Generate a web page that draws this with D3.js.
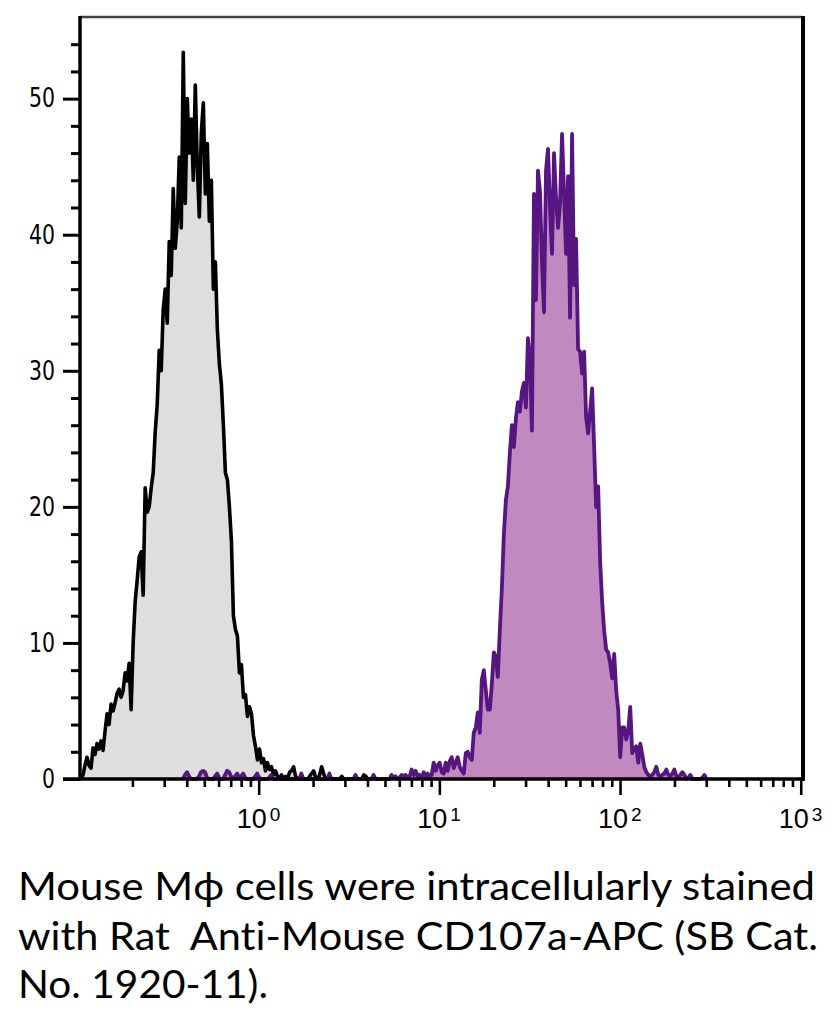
<!DOCTYPE html>
<html><head><meta charset="utf-8">
<script src="https://cdn.jsdelivr.net/npm/d3@7"></script>
<style>body{margin:0;background:#fff} text{font-variant-ligatures:none;font-feature-settings:"liga" 0,"clig" 0,"dlig" 0}</style>
</head><body>
<svg id="c" width="832" height="1017"></svg>
<script>
// ---- data ----
const binWidth = 0.0111;          // histogram bin width in decades
const grayStart = -0.9835;        // log10 of first gray bin
const grayCounts = [
  0,0.3,1.0,1.6,1.0,0.8,2.3,1.8,2.6,2.2,2.8,2.1,3.5,4.8,4.0,5.5,5.0,5.6,6.3,6.6,
  6.0,6.5,7.8,7.2,8.5,5.1,10.0,13.0,14.6,16.3,16.7,13.5,21.4,19.6,20.0,21.4,22.5,25.5,27.5,31.5,
  30.0,34.5,36.0,33.5,39.5,37.0,43.4,39.0,41.0,45.7,40.5,53.4,42.3,50.0,46.0,48.5,44.0,51.0,45.0,41.3,
  47.5,49.7,43.0,46.7,41.0,44.0,36.0,38.0,33.0,30.5,29.0,26.0,22.5,22.0,20.0,17.5,12.0,11.0,10.5,7.8,
  8.4,6.0,6.2,4.6,5.3,4.8,3.2,2.4,1.4,2.2,1.2,1.5,0.6,1.2,0.7,0.9,0.3,0.6,0.2,0,
  0.3,0,0.2,0,0.5,0.6,0.9,0.2,0,0,0,0,0,0,0.2,0.4,0.6,0.1,0,0.3,
  0.9,0.4,0,0,0,0,0,0,0,0,0.2,0,0,0,0,0,0,0,0,0,
  0,0.3,0.2,0,0
];
const purpleStart = -0.419;       // log10 of first purple bin
const purpleCounts = [
  0,0.3,0.5,0.2,0,0,0,0,0.2,0.5,0.6,0.5,0.1,0,0,0,0.2,0.4,0.1,0,0,0.3,0.6,0.5,
  0.2,0,0.2,0.4,0.1,0.2,0.4,0.1,0,0,0,0,0.2,0.4,0.1,0,0,0,0,0.1,0.3,0,
  0,0,0,0,0,0,0,0,0,0,0,0,0,0.4,0,
  0,0,0,0,0,0,0,0,0,0,0,0,0.4,0,
  0,0,0,0,0,0,0,0,0,0,0,0.3,0,
  0,0,0,0,0,0,0,0.3,0,
  0,0,0,0,0,0,0,
  0.3,0.1,0.2,0,0.1,0.3,0.2,0.3,0.1,0.2,0.7,0.3,0.6,0.2,0.3,0.1,0.5,0.2,0.4,0.2,
  0.3,1.2,0.6,1.0,1.2,0.5,0.4,1.2,0.6,1.3,1.6,0.8,1.2,1.6,0.9,0.6,0.4,1.9,2.0,1.6,
  1.4,3.4,3.8,4.9,3.4,7.3,8.0,6.5,5.1,5.1,7.0,9.3,9.0,7.5,11.0,14.0,18.0,20.5,21.5,24.0,
  26.0,24.4,26.5,27.7,27.0,28.5,29.1,27.3,32.4,30.8,25.6,43.0,35.2,44.7,43.2,38.0,34.3,44.7,46.3,42.0,
  38.6,46.0,42.7,40.5,42.3,47.4,43.0,38.6,44.3,33.9,47.4,36.3,39.7,31.6,31.4,29.8,31.4,26.6,25.4,27.0,
  28.7,24.4,20.0,21.5,16.0,13.0,10.9,9.5,9.3,8.5,7.4,9.2,6.5,5.1,1.6,3.8,3.8,2.9,3.5,5.3,
  1.9,2.2,2.4,1.2,2.6,1.8,0.9,0.5,0.3,0.2,0.3,0.5,0.9,0.3,0.2,0.3,0.4,0.7,0.3,0.2,
  0.4,0.7,0.2,0.1,0.3,0.5,0.3,0,0.1,0.3,0,0,0,0,0,0.1,0.3,0
];
const yMajorTicks = [0,10,20,30,40,50];
const yMinorTicks = [2,4,6,8,12,14,16,18,22,24,26,28,32,34,36,38,42,44,46,48,52,54];
const xMajorTicks = [1,10,100,1000];
const xMajorExponents = ["0","1","2","3"];
const xMinorTicks = [0.2,0.3,0.4,0.5,0.6,0.7,0.8,0.9,2,3,4,5,6,7,8,9,20,30,40,50,60,70,80,90,200,300,400,500,600,700,800,900];
const captionLines = [
  "Mouse M\u03D5 cells were intracellularly stained",
  "with Rat  Anti-Mouse CD107a-APC (SB Cat.",
  "No. 1920-11)."
];

// ---- layout ----
const L = 80, R = 802, T = 17, B = 779;
const svg = d3.select("#c");
const x = d3.scaleLog().domain([Math.pow(10,-0.989), Math.pow(10,3.007)]).range([L, R]);
const y = d3.scaleLinear().domain([0, 56]).range([B, T]);

const toPts = (start, arr) => arr.map((c, i) => ({v: Math.pow(10, start + i*binWidth), c}));
const grayPts = toPts(grayStart, grayCounts);
const purplePts = toPts(purpleStart, purpleCounts);

const area = d3.area().x(d => x(d.v)).y0(y(0)).y1(d => y(d.c));
const line = d3.line().x(d => x(d.v)).y(d => y(d.c));

svg.append("path").attr("d", area(grayPts)).attr("fill", "#dedede");
svg.append("path").attr("d", line(grayPts)).attr("fill", "none").attr("stroke", "#000")
  .attr("stroke-width", 3.6).attr("stroke-linejoin", "round");
svg.append("path").attr("d", area(purplePts)).attr("fill", "#c08ac0");
svg.append("path").attr("d", line(purplePts)).attr("fill", "none").attr("stroke", "#561580")
  .attr("stroke-width", 3.8).attr("stroke-linejoin", "round");

// frame
svg.append("line").attr("x1", L).attr("x2", R).attr("y1", T).attr("y2", T)
  .attr("stroke", "#444").attr("stroke-width", 2.5);
svg.append("line").attr("x1", R + 1).attr("x2", R + 1).attr("y1", T - 1).attr("y2", B + 1.5)
  .attr("stroke", "#000").attr("stroke-width", 4);

// y axis
const tickFont = "'DejaVu Sans', Verdana, sans-serif";
const yMaj = svg.append("g").attr("transform", `translate(${L},0)`)
  .call(d3.axisLeft(y).tickValues(yMajorTicks).tickSize(17).tickPadding(8).tickFormat(d3.format("d")));
const yMin = svg.append("g").attr("transform", `translate(${L},0)`)
  .call(d3.axisLeft(y).tickValues(yMinorTicks).tickSize(9).tickFormat(""));
[yMaj, yMin].forEach(g => {
  g.select(".domain").remove();
  g.selectAll(".tick line").attr("stroke", "#000").attr("stroke-width", 3);
});
yMaj.selectAll(".tick text").attr("font-family", tickFont).attr("font-size", 26)
  .attr("fill", "#000").attr("textLength", function(d){ return String(d).length * 13; })
  .attr("lengthAdjust", "spacingAndGlyphs");

// x axis
const xMaj = svg.append("g").attr("transform", `translate(0,${B})`)
  .call(d3.axisBottom(x).tickValues(xMajorTicks).tickSize(16).tickFormat(""));
const xMin = svg.append("g").attr("transform", `translate(0,${B})`)
  .call(d3.axisBottom(x).tickValues(xMinorTicks).tickSize(8).tickFormat(""));
[xMaj, xMin].forEach(g => {
  g.select(".domain").remove();
  g.selectAll(".tick line").attr("stroke", "#000").attr("stroke-width", 2.6);
});
const xFont = "'Liberation Sans', Arial, sans-serif";
const xl = svg.append("g");
xMajorTicks.forEach((v, i) => {
  const cx = x(v);
  xl.append("text").attr("x", cx + 8).attr("y", 828).attr("text-anchor", "end")
    .attr("font-family", xFont).attr("font-size", 27).attr("fill", "#000").text("10");
  xl.append("text").attr("x", cx + 11).attr("y", 821).attr("text-anchor", "start")
    .attr("font-family", xFont).attr("font-size", 19).attr("fill", "#000")
    .text(xMajorExponents[i]);
});

// axis lines
svg.append("line").attr("x1", L).attr("x2", L).attr("y1", T - 1).attr("y2", B + 1.5)
  .attr("stroke", "#000").attr("stroke-width", 3.5);
svg.append("line").attr("x1", L - 17).attr("x2", R + 3).attr("y1", B).attr("y2", B)
  .attr("stroke", "#000").attr("stroke-width", 3.5);

// caption
const capLens = [797, 800, 250];
const capY = [900, 950, 998];
captionLines.forEach((s, i) => {
  svg.append("text").attr("x", 18).attr("y", capY[i])
    .attr("font-family", "Lato, 'DejaVu Sans', sans-serif").attr("font-size", 38)
    .attr("fill", "#000").style("white-space", "pre")
    .attr("textLength", capLens[i]).attr("lengthAdjust", "spacingAndGlyphs")
    .text(s);
});
</script>
</body></html>
